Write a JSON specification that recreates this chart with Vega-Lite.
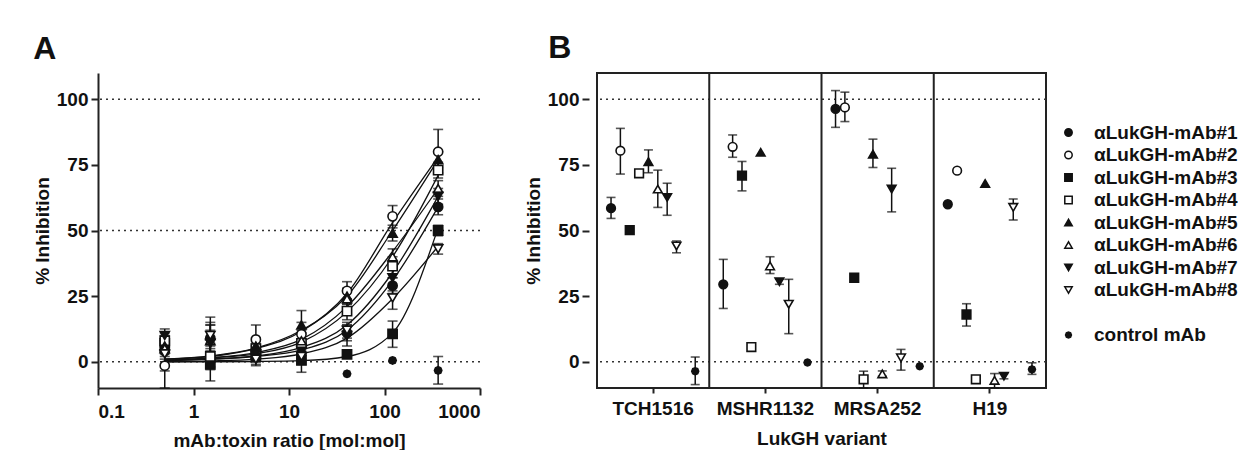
{
  "$schema": "https://vega.github.io/schema/vega-lite/v6.json",
  "background": "white",
  "padding": {"left": 33, "top": 31, "right": 0, "bottom": 0},
  "config": {
    "font": "Liberation Sans",
    "view": {"stroke": null},
    "axis": {"labelFont": "Liberation Sans", "labelFontSize": 19, "labelFontWeight": "bold", "labelColor": "#111", "titleFont": "Liberation Sans", "titleFontSize": 19, "titleFontWeight": "bold", "titleColor": "#111", "grid": false, "domainColor": "#222", "domainWidth": 2, "tickColor": "#222", "tickWidth": 2, "tickSize": 7, "labelPadding": 3},
    "title": {"font": "Liberation Sans", "fontSize": 32, "fontWeight": "bold", "color": "#111", "anchor": "start", "frame": "bounds"},
    "legend": {"orient": "none", "legendX": 961, "legendY": 50, "labelFont": "Liberation Sans", "labelFontSize": 19, "labelFontWeight": "bold", "labelColor": "#111", "symbolSize": 55, "symbolStrokeColor": "#111", "symbolStrokeWidth": 1.5, "rowPadding": 2.5, "labelOffset": 16, "labelLimit": 300}
  },
  "datasets": {
    "afit": [
      {"x": 0.5, "s": "αLukGH-mAb#1", "fit": 0.5}, {"x": 1.5, "s": "αLukGH-mAb#1", "fit": 1}, {"x": 4.5, "s": "αLukGH-mAb#1", "fit": 2}, {"x": 13.5, "s": "αLukGH-mAb#1", "fit": 4.5}, {"x": 40.5, "s": "αLukGH-mAb#1", "fit": 12}, {"x": 121.5, "s": "αLukGH-mAb#1", "fit": 31}, {"x": 364.5, "s": "αLukGH-mAb#1", "fit": 59},
      {"x": 0.5, "s": "αLukGH-mAb#2", "fit": 1}, {"x": 1.5, "s": "αLukGH-mAb#2", "fit": 2}, {"x": 4.5, "s": "αLukGH-mAb#2", "fit": 5}, {"x": 13.5, "s": "αLukGH-mAb#2", "fit": 11.5}, {"x": 40.5, "s": "αLukGH-mAb#2", "fit": 26}, {"x": 121.5, "s": "αLukGH-mAb#2", "fit": 53}, {"x": 364.5, "s": "αLukGH-mAb#2", "fit": 78},
      {"x": 0.5, "s": "αLukGH-mAb#3", "fit": 0}, {"x": 1.5, "s": "αLukGH-mAb#3", "fit": 0}, {"x": 4.5, "s": "αLukGH-mAb#3", "fit": 0.1}, {"x": 13.5, "s": "αLukGH-mAb#3", "fit": 0.4}, {"x": 40.5, "s": "αLukGH-mAb#3", "fit": 2}, {"x": 121.5, "s": "αLukGH-mAb#3", "fit": 11}, {"x": 364.5, "s": "αLukGH-mAb#3", "fit": 51},
      {"x": 0.5, "s": "αLukGH-mAb#4", "fit": 0.5}, {"x": 1.5, "s": "αLukGH-mAb#4", "fit": 1.5}, {"x": 4.5, "s": "αLukGH-mAb#4", "fit": 3}, {"x": 13.5, "s": "αLukGH-mAb#4", "fit": 7.5}, {"x": 40.5, "s": "αLukGH-mAb#4", "fit": 19}, {"x": 121.5, "s": "αLukGH-mAb#4", "fit": 40}, {"x": 364.5, "s": "αLukGH-mAb#4", "fit": 71},
      {"x": 0.5, "s": "αLukGH-mAb#5", "fit": 1}, {"x": 1.5, "s": "αLukGH-mAb#5", "fit": 2.2}, {"x": 4.5, "s": "αLukGH-mAb#5", "fit": 5.2}, {"x": 13.5, "s": "αLukGH-mAb#5", "fit": 12}, {"x": 40.5, "s": "αLukGH-mAb#5", "fit": 25}, {"x": 121.5, "s": "αLukGH-mAb#5", "fit": 50}, {"x": 364.5, "s": "αLukGH-mAb#5", "fit": 77},
      {"x": 0.5, "s": "αLukGH-mAb#6", "fit": 0.5}, {"x": 1.5, "s": "αLukGH-mAb#6", "fit": 1.5}, {"x": 4.5, "s": "αLukGH-mAb#6", "fit": 3.5}, {"x": 13.5, "s": "αLukGH-mAb#6", "fit": 8.5}, {"x": 40.5, "s": "αLukGH-mAb#6", "fit": 21}, {"x": 121.5, "s": "αLukGH-mAb#6", "fit": 42}, {"x": 364.5, "s": "αLukGH-mAb#6", "fit": 66},
      {"x": 0.5, "s": "αLukGH-mAb#7", "fit": 0.5}, {"x": 1.5, "s": "αLukGH-mAb#7", "fit": 1}, {"x": 4.5, "s": "αLukGH-mAb#7", "fit": 2.2}, {"x": 13.5, "s": "αLukGH-mAb#7", "fit": 5.5}, {"x": 40.5, "s": "αLukGH-mAb#7", "fit": 14}, {"x": 121.5, "s": "αLukGH-mAb#7", "fit": 34}, {"x": 364.5, "s": "αLukGH-mAb#7", "fit": 63},
      {"x": 0.5, "s": "αLukGH-mAb#8", "fit": 0}, {"x": 1.5, "s": "αLukGH-mAb#8", "fit": 0.3}, {"x": 4.5, "s": "αLukGH-mAb#8", "fit": 1}, {"x": 13.5, "s": "αLukGH-mAb#8", "fit": 3}, {"x": 40.5, "s": "αLukGH-mAb#8", "fit": 9}, {"x": 121.5, "s": "αLukGH-mAb#8", "fit": 24}, {"x": 364.5, "s": "αLukGH-mAb#8", "fit": 44}
    ],
    "a": [
      {"x": 0.5, "s": "αLukGH-mAb#1", "v": 4, "lo": 1, "hi": 7},
      {"x": 0.5, "s": "αLukGH-mAb#2", "v": -1.5, "lo": -10, "hi": 4},
      {"x": 0.5, "s": "αLukGH-mAb#3", "v": 7, "lo": 4, "hi": 10},
      {"x": 0.5, "s": "αLukGH-mAb#4", "v": 8, "lo": 5, "hi": 11},
      {"x": 0.5, "s": "αLukGH-mAb#5", "v": 6, "lo": 3, "hi": 9},
      {"x": 0.5, "s": "αLukGH-mAb#6", "v": 5, "lo": 2, "hi": 8},
      {"x": 0.5, "s": "αLukGH-mAb#7", "v": 10, "lo": 8, "hi": 12.5},
      {"x": 0.5, "s": "αLukGH-mAb#8", "v": 3, "lo": -3.5, "hi": 6},
      {"x": 1.5, "s": "αLukGH-mAb#1", "v": 9, "lo": 4, "hi": 14},
      {"x": 1.5, "s": "αLukGH-mAb#2", "v": 2, "lo": -3, "hi": 7},
      {"x": 1.5, "s": "αLukGH-mAb#3", "v": -1, "lo": -7.3, "hi": 4},
      {"x": 1.5, "s": "αLukGH-mAb#4", "v": 2, "lo": -2, "hi": 6},
      {"x": 1.5, "s": "αLukGH-mAb#5", "v": 10, "lo": 5, "hi": 15},
      {"x": 1.5, "s": "αLukGH-mAb#6", "v": 8, "lo": 2, "hi": 14},
      {"x": 1.5, "s": "αLukGH-mAb#7", "v": 7, "lo": 2, "hi": 12},
      {"x": 1.5, "s": "αLukGH-mAb#8", "v": 10, "lo": 3, "hi": 17},
      {"x": 4.5, "s": "αLukGH-mAb#1", "v": 4, "lo": 1, "hi": 7},
      {"x": 4.5, "s": "αLukGH-mAb#2", "v": 8.5, "lo": 3, "hi": 14},
      {"x": 4.5, "s": "αLukGH-mAb#3", "v": 2, "lo": -1, "hi": 5},
      {"x": 4.5, "s": "αLukGH-mAb#4", "v": 5, "lo": 2, "hi": 8},
      {"x": 4.5, "s": "αLukGH-mAb#5", "v": 6, "lo": 3, "hi": 9},
      {"x": 4.5, "s": "αLukGH-mAb#6", "v": 3, "lo": 0, "hi": 6},
      {"x": 4.5, "s": "αLukGH-mAb#7", "v": 3, "lo": 0, "hi": 6},
      {"x": 4.5, "s": "αLukGH-mAb#8", "v": 1, "lo": -1.5, "hi": 4},
      {"x": 13.5, "s": "αLukGH-mAb#1", "v": 3, "lo": 0, "hi": 6},
      {"x": 13.5, "s": "αLukGH-mAb#2", "v": 10.5, "lo": 6, "hi": 15},
      {"x": 13.5, "s": "αLukGH-mAb#3", "v": 0.5, "lo": -4, "hi": 5},
      {"x": 13.5, "s": "αLukGH-mAb#4", "v": 7, "lo": 3, "hi": 11},
      {"x": 13.5, "s": "αLukGH-mAb#5", "v": 14, "lo": 8, "hi": 19.5},
      {"x": 13.5, "s": "αLukGH-mAb#6", "v": 8, "lo": 4, "hi": 12},
      {"x": 13.5, "s": "αLukGH-mAb#7", "v": 4, "lo": 1, "hi": 7},
      {"x": 13.5, "s": "αLukGH-mAb#8", "v": 2, "lo": -1, "hi": 5},
      {"x": 40.5, "s": "αLukGH-mAb#1", "v": 11, "lo": 8, "hi": 14},
      {"x": 40.5, "s": "αLukGH-mAb#2", "v": 27, "lo": 24, "hi": 30.5},
      {"x": 40.5, "s": "αLukGH-mAb#3", "v": 2.8},
      {"x": 40.5, "s": "αLukGH-mAb#4", "v": 19.3, "lo": 16, "hi": 22},
      {"x": 40.5, "s": "αLukGH-mAb#5", "v": 25, "lo": 22, "hi": 28},
      {"x": 40.5, "s": "αLukGH-mAb#6", "v": 24, "lo": 21, "hi": 27},
      {"x": 40.5, "s": "αLukGH-mAb#7", "v": 10, "lo": 6, "hi": 14},
      {"x": 40.5, "s": "αLukGH-mAb#8", "v": 12, "lo": 9, "hi": 15},
      {"x": 40.5, "s": "control mAb", "v": -4.6},
      {"x": 121.5, "s": "αLukGH-mAb#1", "v": 29, "lo": 26, "hi": 32},
      {"x": 121.5, "s": "αLukGH-mAb#2", "v": 55.4, "lo": 51, "hi": 59.5},
      {"x": 121.5, "s": "αLukGH-mAb#3", "v": 10.6, "lo": 5.5, "hi": 15.5},
      {"x": 121.5, "s": "αLukGH-mAb#4", "v": 36.4, "lo": 32, "hi": 40},
      {"x": 121.5, "s": "αLukGH-mAb#5", "v": 49, "lo": 46, "hi": 52},
      {"x": 121.5, "s": "αLukGH-mAb#6", "v": 40, "lo": 37, "hi": 43},
      {"x": 121.5, "s": "αLukGH-mAb#7", "v": 32, "lo": 29, "hi": 35},
      {"x": 121.5, "s": "αLukGH-mAb#8", "v": 24.3, "lo": 20, "hi": 27},
      {"x": 121.5, "s": "control mAb", "v": 0.5},
      {"x": 364.5, "s": "αLukGH-mAb#1", "v": 59, "lo": 56, "hi": 62},
      {"x": 364.5, "s": "αLukGH-mAb#2", "v": 80, "lo": 72, "hi": 88.5},
      {"x": 364.5, "s": "αLukGH-mAb#3", "v": 50, "lo": 48, "hi": 52},
      {"x": 364.5, "s": "αLukGH-mAb#4", "v": 73, "lo": 70, "hi": 76},
      {"x": 364.5, "s": "αLukGH-mAb#5", "v": 77, "lo": 74, "hi": 80},
      {"x": 364.5, "s": "αLukGH-mAb#6", "v": 66, "lo": 63, "hi": 69},
      {"x": 364.5, "s": "αLukGH-mAb#7", "v": 63, "lo": 60, "hi": 66},
      {"x": 364.5, "s": "αLukGH-mAb#8", "v": 43, "lo": 41, "hi": 45},
      {"x": 364.5, "s": "control mAb", "v": -3.3, "lo": -8.5, "hi": 2}
    ],
    "b": [
      {"g": "TCH1516", "s": "αLukGH-mAb#1", "v": 58.5, "lo": 54.6, "hi": 62.6},
      {"g": "TCH1516", "s": "αLukGH-mAb#2", "v": 80.4, "lo": 71.5, "hi": 88.9},
      {"g": "TCH1516", "s": "αLukGH-mAb#3", "v": 50.1},
      {"g": "TCH1516", "s": "αLukGH-mAb#4", "v": 71.8},
      {"g": "TCH1516", "s": "αLukGH-mAb#5", "v": 76.2, "lo": 72, "hi": 80.7},
      {"g": "TCH1516", "s": "αLukGH-mAb#6", "v": 65.8, "lo": 58.8, "hi": 73},
      {"g": "TCH1516", "s": "αLukGH-mAb#7", "v": 62.6, "lo": 55.8, "hi": 68},
      {"g": "TCH1516", "s": "αLukGH-mAb#8", "v": 44.1, "lo": 41.5, "hi": 46},
      {"g": "TCH1516", "s": "control mAb", "v": -3.6, "lo": -8.7, "hi": 1.8},
      {"g": "MSHR1132", "s": "αLukGH-mAb#1", "v": 29.5, "lo": 20.3, "hi": 39},
      {"g": "MSHR1132", "s": "αLukGH-mAb#2", "v": 81.9, "lo": 77.9, "hi": 86.4},
      {"g": "MSHR1132", "s": "αLukGH-mAb#3", "v": 70.9, "lo": 65.1, "hi": 76.3},
      {"g": "MSHR1132", "s": "αLukGH-mAb#4", "v": 5.6},
      {"g": "MSHR1132", "s": "αLukGH-mAb#5", "v": 79.8},
      {"g": "MSHR1132", "s": "αLukGH-mAb#6", "v": 36.5, "lo": 33.6, "hi": 40},
      {"g": "MSHR1132", "s": "αLukGH-mAb#7", "v": 30.5, "lo": 29.5, "hi": 31.5},
      {"g": "MSHR1132", "s": "αLukGH-mAb#8", "v": 21.9, "lo": 10.7, "hi": 31.4},
      {"g": "MSHR1132", "s": "control mAb", "v": -0.3},
      {"g": "MRSA252", "s": "αLukGH-mAb#1", "v": 96.3, "lo": 89.3, "hi": 103.3},
      {"g": "MRSA252", "s": "αLukGH-mAb#2", "v": 96.9, "lo": 91.5, "hi": 102.7},
      {"g": "MRSA252", "s": "αLukGH-mAb#3", "v": 32},
      {"g": "MRSA252", "s": "αLukGH-mAb#4", "v": -6.7, "lo": -10, "hi": -3.6},
      {"g": "MRSA252", "s": "αLukGH-mAb#5", "v": 79.1, "lo": 74, "hi": 84.8},
      {"g": "MRSA252", "s": "αLukGH-mAb#6", "v": -4.6, "lo": -5.5, "hi": -3.5},
      {"g": "MRSA252", "s": "αLukGH-mAb#7", "v": 65.8, "lo": 57.1, "hi": 73.7},
      {"g": "MRSA252", "s": "αLukGH-mAb#8", "v": 1.5, "lo": -3.2, "hi": 4.7},
      {"g": "MRSA252", "s": "control mAb", "v": -1.7},
      {"g": "H19", "s": "αLukGH-mAb#1", "v": 60},
      {"g": "H19", "s": "αLukGH-mAb#2", "v": 72.8},
      {"g": "H19", "s": "αLukGH-mAb#3", "v": 18, "lo": 13.6, "hi": 22.1},
      {"g": "H19", "s": "αLukGH-mAb#4", "v": -6.7},
      {"g": "H19", "s": "αLukGH-mAb#5", "v": 67.9},
      {"g": "H19", "s": "αLukGH-mAb#6", "v": -7.1, "lo": -10, "hi": -4.5},
      {"g": "H19", "s": "αLukGH-mAb#7", "v": -5.5, "lo": -6.5, "hi": -4.5},
      {"g": "H19", "s": "αLukGH-mAb#8", "v": 58.8, "lo": 54, "hi": 62},
      {"g": "H19", "s": "control mAb", "v": -2.9, "lo": -4.8, "hi": -0.4}
    ]
  },
  "spacing": 42,
  "hconcat": [
    {
      "width": 382,
      "height": 315,
      "title": {"text": "A", "offset": 7},
      "layer": [
        {
          "data": {"values": [{"r": 0}, {"r": 50}, {"r": 100}]},
          "mark": {"type": "rule", "strokeDash": [2, 4], "color": "#333", "strokeWidth": 1.5},
          "encoding": {"y": {"field": "r", "type": "quantitative", "title": "% Inhibition", "scale": {"domain": [-10, 110]}, "axis": {"values": [0, 25, 50, 75, 100], "titlePadding": 4}}}
        },
        {
          "data": {"name": "afit"},
          "mark": {"type": "line", "interpolate": "monotone", "color": "#111", "strokeWidth": 1.3},
          "encoding": {
            "x": {"field": "x", "type": "quantitative", "title": "mAb:toxin ratio [mol:mol]", "scale": {"type": "log", "domain": [0.1, 1000]}, "axis": {"values": [0.1, 1, 10, 100, 1000], "format": "~f", "labelPadding": 7, "titlePadding": 10}},
            "y": {"field": "fit", "type": "quantitative", "title": "% Inhibition"},
            "detail": {"field": "s"}
          }
        },
        {
          "data": {"name": "a"},
          "transform": [{"filter": "isValid(datum.lo)"}],
          "mark": {"type": "rule", "color": "#111", "strokeWidth": 1.5},
          "encoding": {
            "x": {"field": "x", "type": "quantitative", "title": "mAb:toxin ratio [mol:mol]"},
            "y": {"field": "lo", "type": "quantitative", "title": "% Inhibition"},
            "y2": {"field": "hi"}
          }
        },
        {
          "data": {"name": "a"},
          "transform": [{"filter": "isValid(datum.lo)"}],
          "mark": {"type": "tick", "orient": "horizontal", "size": 10, "thickness": 1.6, "color": "#111"},
          "encoding": {
            "x": {"field": "x", "type": "quantitative", "title": "mAb:toxin ratio [mol:mol]"},
            "y": {"field": "lo", "type": "quantitative", "title": "% Inhibition"}
          }
        },
        {
          "data": {"name": "a"},
          "transform": [{"filter": "isValid(datum.hi)"}],
          "mark": {"type": "tick", "orient": "horizontal", "size": 10, "thickness": 1.6, "color": "#111"},
          "encoding": {
            "x": {"field": "x", "type": "quantitative", "title": "mAb:toxin ratio [mol:mol]"},
            "y": {"field": "hi", "type": "quantitative", "title": "% Inhibition"}
          }
        },
        {
          "data": {"name": "a"},
          "mark": {"type": "point", "strokeWidth": 1.6, "opacity": 1, "fillOpacity": 1, "size": 85},
          "encoding": {
            "x": {"field": "x", "type": "quantitative", "title": "mAb:toxin ratio [mol:mol]"},
            "y": {"field": "v", "type": "quantitative", "title": "% Inhibition"},
            "shape": {"field": "s", "type": "nominal", "scale": {"domain": ["αLukGH-mAb#1", "αLukGH-mAb#2", "αLukGH-mAb#3", "αLukGH-mAb#4", "αLukGH-mAb#5", "αLukGH-mAb#6", "αLukGH-mAb#7", "αLukGH-mAb#8", " ", "control mAb"], "range": ["circle", "circle", "square", "square", "triangle-up", "triangle-up", "triangle-down", "triangle-down", "M0,0L0,0Z", "M0.8,0L0.69,0.29L0.57,0.57L0.29,0.69L0,0.8L-0.29,0.69L-0.57,0.57L-0.69,0.29L-0.8,0L-0.69,-0.29L-0.57,-0.57L-0.29,-0.69L0,-0.8L0.29,-0.69L0.57,-0.57L0.69,-0.29Z"]}, "legend": {"title": null}},
            "fill": {"field": "s", "type": "nominal", "scale": {"domain": ["αLukGH-mAb#1", "αLukGH-mAb#2", "αLukGH-mAb#3", "αLukGH-mAb#4", "αLukGH-mAb#5", "αLukGH-mAb#6", "αLukGH-mAb#7", "αLukGH-mAb#8", " ", "control mAb"], "range": ["#111", "white", "#111", "white", "#111", "white", "#111", "white", "white", "#111"]}, "legend": {"title": null}},
            "stroke": {"field": "s", "type": "nominal", "scale": {"domain": ["αLukGH-mAb#1", "αLukGH-mAb#2", "αLukGH-mAb#3", "αLukGH-mAb#4", "αLukGH-mAb#5", "αLukGH-mAb#6", "αLukGH-mAb#7", "αLukGH-mAb#8", " ", "control mAb"], "range": ["#111", "#111", "#111", "#111", "#111", "#111", "#111", "#111", "#111", "#111"]}, "legend": {"title": null}}
          }
        }
      ]
    },
    {
      "width": 449,
      "height": 315,
      "view": {"stroke": "#222", "strokeWidth": 2},
      "title": {"text": "B", "offset": 7, "dx": 24},
      "layer": [
        {
          "data": {"values": [{"r": 0}, {"r": 100}]},
          "mark": {"type": "rule", "strokeDash": [2, 4], "color": "#333", "strokeWidth": 1.5},
          "encoding": {"y": {"field": "r", "type": "quantitative", "title": "% Inhibition", "scale": {"domain": [-10, 110]}, "axis": {"values": [0, 25, 50, 75, 100], "domain": false, "offset": 8, "titlePadding": 4}}}
        },
        {
          "data": {"values": [{"g": "MSHR1132"}, {"g": "MRSA252"}, {"g": "H19"}]},
          "mark": {"type": "rule", "color": "#222", "strokeWidth": 2},
          "encoding": {"x": {"field": "g", "type": "nominal", "bandPosition": 0, "title": "LukGH variant", "scale": {"domain": ["TCH1516", "MSHR1132", "MRSA252", "H19"], "paddingInner": 0, "paddingOuter": 0}, "axis": {"labelAngle": 0, "domain": false, "tickSize": 5, "labelPadding": 6, "titlePadding": 11}}}
        },
        {
          "data": {"name": "b"},
          "transform": [{"filter": "isValid(datum.lo)"}],
          "mark": {"type": "rule", "color": "#111", "strokeWidth": 1.5},
          "encoding": {
            "x": {"field": "g", "type": "nominal", "title": "LukGH variant"},
            "xOffset": {"field": "s", "type": "nominal", "scale": {"domain": ["αLukGH-mAb#1", "αLukGH-mAb#2", "αLukGH-mAb#3", "αLukGH-mAb#4", "αLukGH-mAb#5", "αLukGH-mAb#6", "αLukGH-mAb#7", "αLukGH-mAb#8", " ", "control mAb"], "paddingInner": 0, "paddingOuter": 1.43}},
            "y": {"field": "lo", "type": "quantitative", "title": "% Inhibition"},
            "y2": {"field": "hi"}
          }
        },
        {
          "data": {"name": "b"},
          "transform": [{"filter": "isValid(datum.lo)"}],
          "mark": {"type": "tick", "orient": "horizontal", "size": 9, "thickness": 1.6, "color": "#111"},
          "encoding": {
            "x": {"field": "g", "type": "nominal", "title": "LukGH variant"},
            "xOffset": {"field": "s", "type": "nominal"},
            "y": {"field": "lo", "type": "quantitative", "title": "% Inhibition"}
          }
        },
        {
          "data": {"name": "b"},
          "transform": [{"filter": "isValid(datum.hi)"}],
          "mark": {"type": "tick", "orient": "horizontal", "size": 9, "thickness": 1.6, "color": "#111"},
          "encoding": {
            "x": {"field": "g", "type": "nominal", "title": "LukGH variant"},
            "xOffset": {"field": "s", "type": "nominal"},
            "y": {"field": "hi", "type": "quantitative", "title": "% Inhibition"}
          }
        },
        {
          "data": {"name": "b"},
          "mark": {"type": "point", "strokeWidth": 1.6, "opacity": 1, "fillOpacity": 1, "size": 75},
          "encoding": {
            "x": {"field": "g", "type": "nominal", "title": "LukGH variant"},
            "xOffset": {"field": "s", "type": "nominal"},
            "y": {"field": "v", "type": "quantitative", "title": "% Inhibition"},
            "shape": {"field": "s", "type": "nominal", "legend": {"title": null}},
            "fill": {"field": "s", "type": "nominal", "legend": {"title": null}},
            "stroke": {"field": "s", "type": "nominal", "legend": {"title": null}}
          }
        }
      ]
    }
  ],
  "resolve": {"scale": {"shape": "shared", "fill": "shared", "stroke": "shared"}, "legend": {"shape": "shared", "fill": "shared", "stroke": "shared"}}
}
